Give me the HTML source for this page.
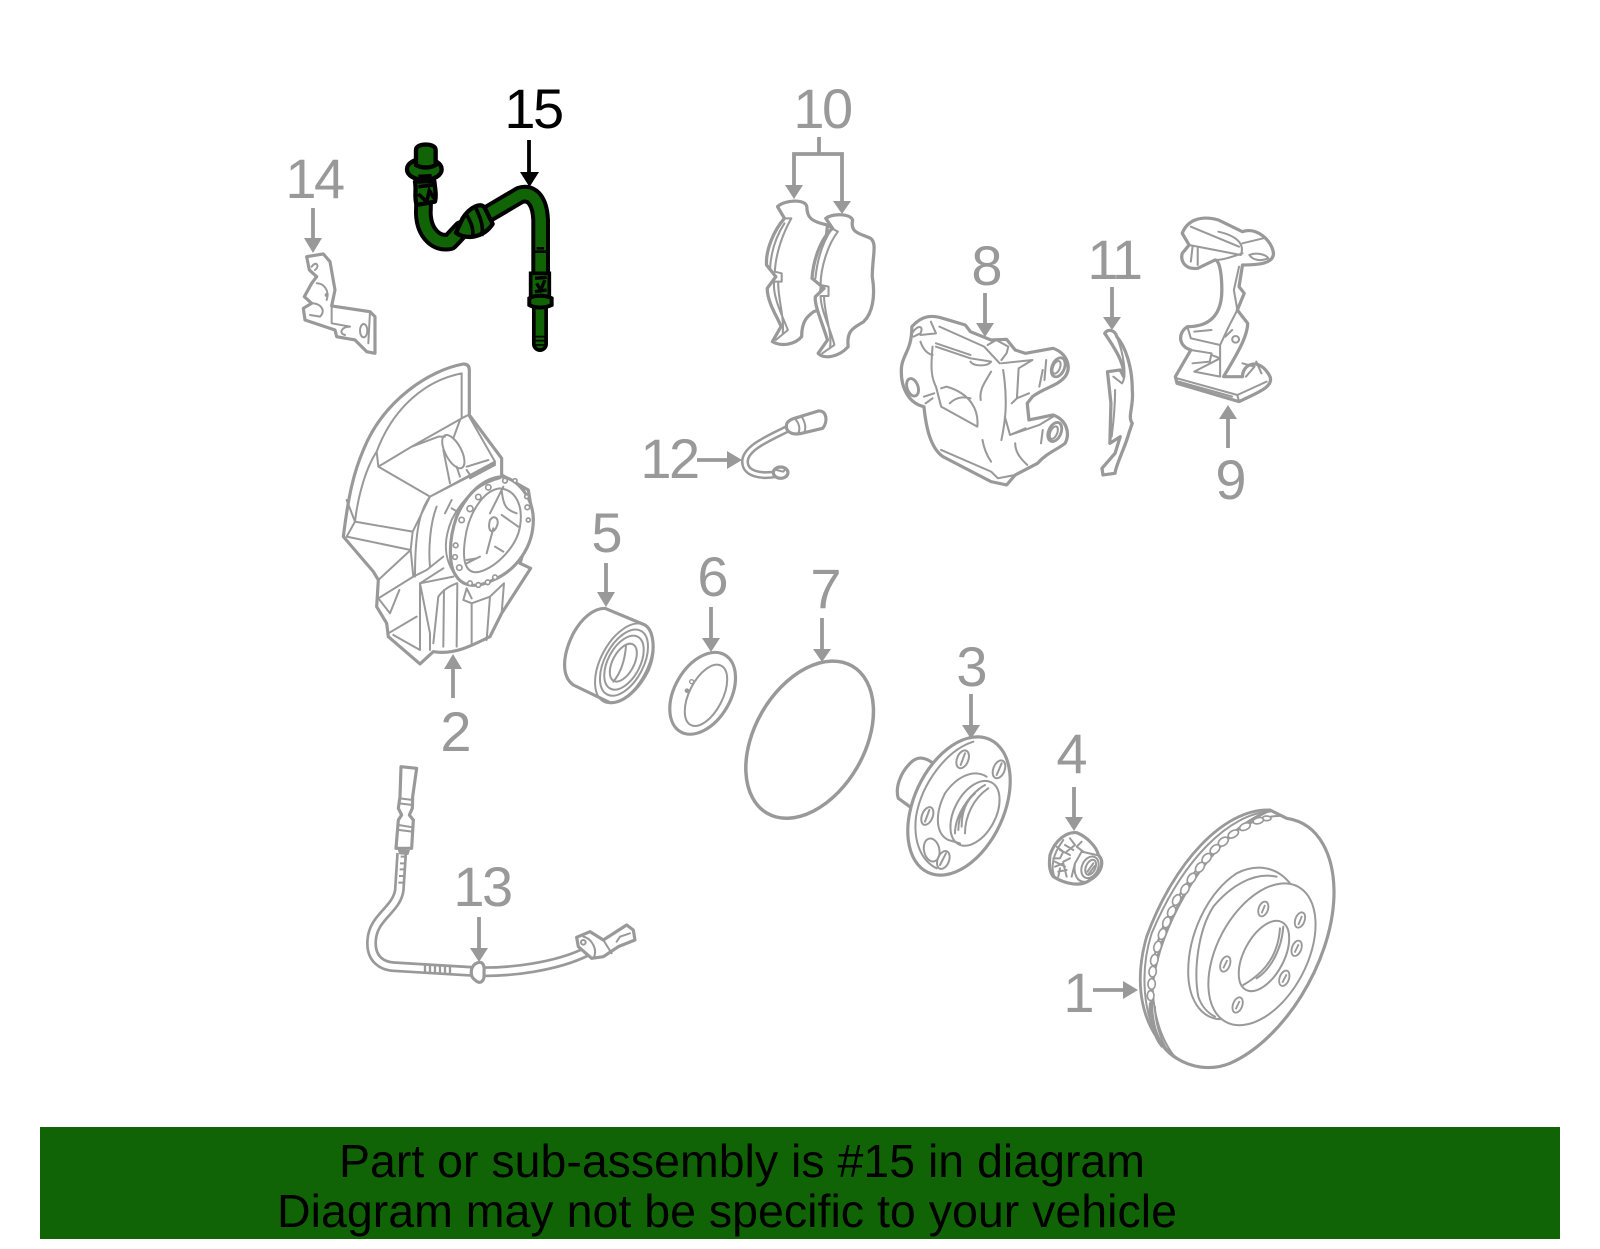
<!DOCTYPE html>
<html><head><meta charset="utf-8"><style>
html,body{margin:0;padding:0;background:#fff}
svg{display:block}
text{font-family:"Liberation Sans",sans-serif}
.l{font-size:56px;fill:#999;text-anchor:middle}
.d{letter-spacing:-2.500px}
.a{stroke:#999;stroke-width:3.800;fill:none}
.t{fill:#999;stroke:none}
.p{fill:none;stroke:#999;stroke-width:8.500;stroke-linejoin:round;stroke-linecap:round}
.w{fill:#fff;stroke:#999;stroke-width:9.500;stroke-linejoin:round;stroke-linecap:round}
.n{fill:none;stroke:#999;stroke-width:6;stroke-linejoin:round;stroke-linecap:round}
</style></head><body>
<svg width="1600" height="1249" viewBox="0 0 1600 1249" xmlns="http://www.w3.org/2000/svg">
<rect width="1600" height="1249" fill="#fff"/>

<!-- banner -->
<rect x="40" y="1127" width="1520" height="112" fill="#116405"/>
<text x="339" y="1177" font-size="46" textLength="806" lengthAdjust="spacingAndGlyphs" fill="#000">Part or sub-assembly is #15 in diagram</text>
<text x="277" y="1227" font-size="46" textLength="900" lengthAdjust="spacingAndGlyphs" fill="#000">Diagram may not be specific to your vehicle</text>

<!-- labels -->
<text class="l d" x="533" y="128" style="fill:#000">15</text>
<text class="l d" x="314" y="198">14</text>
<text class="l d" x="822" y="128">10</text>
<text class="l" x="987" y="285">8</text>
<text class="l d" x="1114" y="279">11</text>
<text class="l" x="1231" y="499">9</text>
<text class="l d" x="669" y="478">12</text>
<text class="l" x="607" y="552">5</text>
<text class="l" x="713" y="596">6</text>
<text class="l" x="826" y="608">7</text>
<text class="l" x="972" y="686">3</text>
<text class="l" x="1072" y="773">4</text>
<text class="l" x="1079" y="1012">1</text>
<text class="l" x="456" y="751">2</text>
<text class="l d" x="482" y="906">13</text>

<!-- arrows -->
<path d="M529 140V172" stroke="#000" stroke-width="3.800"/><path d="M520 172h19l-9.500 15z" fill="#000"/>
<path class="a" d="M313 208V238"/><path class="t" d="M304 238h18l-9 15z"/>
<path class="a" d="M819 137V154M794 186V154H842V202"/><path class="t" d="M785 185h18l-9 14z"/><path class="t" d="M833 201h18l-9 13z"/>
<path class="a" d="M985 293V323"/><path class="t" d="M976 323h18l-9 14z"/>
<path class="a" d="M1112 287V317"/><path class="t" d="M1103 317h18l-9 13z"/>
<path class="a" d="M1228 448V418"/><path class="t" d="M1219 419h18l-9 -14z"/>
<path class="a" d="M697 460H727"/><path class="t" d="M727 451v18l15 -9z"/>
<path class="a" d="M606 563V592"/><path class="t" d="M597 592h18l-9 15z"/>
<path class="a" d="M711 607V638"/><path class="t" d="M702 638h18l-9 14z"/>
<path class="a" d="M822 618V649"/><path class="t" d="M813 649h18l-9 13z"/>
<path class="a" d="M971 694V725"/><path class="t" d="M962 725h18l-9 14z"/>
<path class="a" d="M1074 787V817"/><path class="t" d="M1065 817h18l-9 14z"/>
<path class="a" d="M1093 990H1124"/><path class="t" d="M1123 981v18l15 -9z"/>
<path class="a" d="M453 698V668"/><path class="t" d="M444 669h18l-9 -15z"/>
<path class="a" d="M479 917V948"/><path class="t" d="M470 948h18l-9 14z"/>

<!-- 15 hose -->
<g transform="translate(270,70) scale(.3333)">
<g fill="none" stroke-linecap="round" stroke-linejoin="round">
<path d="M462 350 L460 430 C462 490 500 525 540 515 L575 478 M640 440 L750 375 C790 362 810 400 812 450 L812 690" stroke="#000" stroke-width="56"/>
<path d="M462 350 L460 430 C462 490 500 525 540 515 L575 478 M640 440 L750 375 C790 362 810 400 812 450 L812 690" stroke="#116405" stroke-width="32"/>
<path d="M810 700V822" stroke="#000" stroke-width="48"/>
<path d="M810 705V822" stroke="#116405" stroke-width="26"/>
</g>
<path d="M578 445 C600 410 635 395 645 415 L668 462 C640 505 585 510 558 488 Z" fill="#116405" stroke="#000" stroke-width="13" stroke-linejoin="round"/>
<path d="M590 435 C605 460 612 480 607 502M618 415 C632 445 642 470 635 498" fill="none" stroke="#000" stroke-width="11"/>
<path d="M435 335 L493 333 C495 355 500 375 495 395 L440 405 C432 380 440 360 435 335Z" fill="#116405" stroke="#000" stroke-width="13" stroke-linejoin="round"/>
<path d="M445 350 L490 345M445 372 L470 395 L478 362 L492 385" fill="none" stroke="#000" stroke-width="11"/>
<ellipse cx="463" cy="298" rx="52" ry="32" fill="#116405" stroke="#000" stroke-width="13"/>
<path d="M438 285 V240 C438 218 497 218 497 240 V285 C480 295 455 295 438 285Z" fill="#116405" stroke="#000" stroke-width="13"/>
<path d="M445 320 L485 318" stroke="#000" stroke-width="12"/>
<path d="M788 545H835M800 535H822" stroke="#000" stroke-width="8"/>
<path d="M782 610H838V680H782Z" fill="#116405" stroke="#000" stroke-width="11"/>
<path d="M795 625L830 622M800 640L812 660L825 630M795 665L830 660" fill="none" stroke="#000" stroke-width="10"/>
<path d="M778 685C795 675 825 675 845 685V705C825 715 795 715 778 705Z" fill="#116405" stroke="#000" stroke-width="12"/>
<path d="M790 800H832M790 812H832M790 825H832" stroke="#000" stroke-width="5"/>
</g>

<!-- 14 bracket -->
<g transform="translate(270,70) scale(.3333)">
<path class="w" d="M110 560 L160 552 L180 575 L195 660 L185 708 L300 725 L315 740 L315 850 L290 845 L255 810 L200 800 L195 780 L105 750 L100 715 L125 700 L103 680 L125 640 L140 620 L118 600Z"/>
<path class="n" d="M125 590C140 570 150 590 135 600M140 640C160 640 180 660 170 690M125 700C150 700 170 720 150 740L120 735M185 708L185 760L240 770C215 770 205 790 225 795M300 725L295 820"/>
<ellipse class="n" cx="281" cy="782" rx="11" ry="20"/>
<circle cx="170" cy="675" r="6" class="t"/>
</g>

<!-- 2 shield -->
<g transform="translate(320,350) scale(.3333)">
<path class="w" d="M430 42 Q448 42 448 60 L448 195 L545 325 L545 375 L625 420 L640 510 L600 640 L632 655 L545 790 L510 860 C450 890 400 915 340 905 L300 942 L205 860 L200 820 L170 770 L175 690 L160 665 L70 560 C85 440 100 370 130 300 C190 150 330 60 430 42Z"/>
<path class="n" d="M425 70 L425 205 M425 70 C320 90 220 170 170 305 L175 350 L275 290 L425 205 L445 195 L525 335 L330 440 L175 350 M275 290 L355 260 L375 260 M420 210 L400 265 M170 305 C140 350 115 430 105 515 L80 450 M105 515 L278 545 L330 440 M80 560 L105 515 M80 560 L272 600 L278 545 M272 600 L175 690 M175 745 L280 680 L272 600 M175 745 L210 790 L238 720 M205 850 L290 800 M220 855 L300 900 L300 700 L400 680 M330 900 L330 850 L300 700 M280 680 L320 660 L370 620 M300 700 L370 655 M330 440 L525 340 M330 440 C300 480 285 540 285 680 M350 470 C330 520 325 600 330 650 M395 450 L375 490 M395 475 L420 490 M525 345 L450 385 M440 350 L505 330 M370 300 L390 400 M410 350 L420 380 M440 360 L450 375"/>
<ellipse class="n" cx="400" cy="305" rx="24" ry="55" transform="rotate(-28 400 305)"/>
<path class="n" d="M340 880 L355 740 C370 720 385 710 410 700 M370 890 L372 720 M410 890 L412 700 M455 885 L455 760 L430 750 L440 715 L455 745 M500 870 L510 740 M545 790 L552 700 M455 760 L510 740 L552 700"/>
<path class="w" d="M545 380 C590 385 640 440 640 510 C640 590 590 660 520 690 C470 715 430 710 410 680 C385 650 385 570 410 500 C440 430 490 385 545 380Z"/>
<path class="n" d="M540 385 C500 395 440 420 395 510 C370 570 370 630 410 680"/>
<path class="n" d="M540 415 C590 420 610 470 600 530 C590 590 530 650 480 665 C440 675 425 640 435 570 C445 490 490 420 540 415Z"/>
<path class="n" d="M545 420 C550 470 560 480 590 490 M510 490 L550 410 M545 495 L595 530 M520 535 L500 610 M525 590 L550 605 M480 620 L440 640 M470 625 L440 630 M510 510 C525 490 540 510 530 530 C520 555 500 545 510 510Z"/>
<g fill="#fff" stroke="#999" stroke-width="5">
<circle cx="555" cy="392" r="7"/><circle cx="505" cy="412" r="8"/><circle cx="475" cy="441" r="8"/><circle cx="450" cy="476" r="9"/><circle cx="425" cy="510" r="8"/><circle cx="407" cy="586" r="7"/><circle cx="405" cy="621" r="7"/><circle cx="418" cy="653" r="8"/><circle cx="450" cy="700" r="7"/><circle cx="475" cy="705" r="7"/><circle cx="503" cy="697" r="7"/><circle cx="525" cy="682" r="7"/><circle cx="625" cy="510" r="6"/><circle cx="622" cy="472" r="7"/><circle cx="620" cy="440" r="6"/><circle cx="585" cy="392" r="6"/>
</g>
</g>

<!-- 10 pads, 8 caliper, 11 clip, 9 bracket -->
<g transform="translate(750,190) scale(.3444,.3333)">
<path class="w" d="M80 50 C100 30 160 25 165 50 C165 85 180 95 225 105 L200 360 L185 365 C165 380 150 395 150 440 C130 465 90 470 65 455 L90 410 C85 390 50 340 50 295 L75 260 L48 225 C45 180 70 120 100 85Z"/>
<path class="n" d="M100 85 L120 85 C95 130 75 190 72 245 L92 250 L92 275 L70 275 C65 320 95 380 110 420 L75 450 M100 100 C75 140 60 190 58 240 M82 275 C80 320 100 380 95 430"/>
<path class="w" d="M220 85 C240 70 290 70 298 90 C290 130 320 130 350 145 C370 160 355 200 355 260 C365 320 355 370 330 395 C300 415 280 420 285 470 C260 500 215 510 198 490 L225 450 C210 400 185 340 190 320 L215 295 L180 265 C185 200 210 140 240 115Z"/>
<path class="n" d="M220 105 L255 125 C225 165 205 235 205 285 L228 290 L228 318 L205 318 C205 360 235 420 245 465 L210 490 M235 120 C210 160 195 210 190 265 M215 318 C215 370 240 430 232 475"/>
<path class="w" d="M470 410 C500 375 530 375 560 385 L625 405 L640 425 L700 450 L745 448 L770 480 L800 490 L880 475 C920 490 935 530 915 560 C890 590 860 590 820 620 L805 640 L810 690 L880 675 C920 690 930 730 915 760 C890 780 860 790 835 820 L770 855 L745 885 L700 875 L560 800 C520 770 510 700 505 650 C460 640 435 590 440 530 C445 490 470 480 470 410Z"/>
<path class="n" d="M470 430 C490 400 505 410 495 430 L475 440 M495 435 L540 430 L525 395 M550 410 L680 470 L725 520 M540 460 L640 495 M540 470 L640 505 L700 515 C690 530 650 530 640 515 M690 465 L715 450 L750 470 L745 490 L730 510 M730 520 L820 510 L780 535 L775 625 M530 470 C525 530 525 560 540 590 L555 650 L660 710 C665 660 640 610 570 590 L555 595 M580 640 C600 620 620 620 640 625 M505 620 L535 610 M510 640 L530 625 M700 545 C680 580 665 600 670 630 M735 540 C750 640 740 700 730 750 M740 680 L755 735 L840 705 L880 680 M760 640 L775 625 L810 610 M755 735 L800 715 M850 540 L840 590 M860 510 L855 570 M850 720 L845 760 M555 780 L700 845 L720 865 L745 860 L770 855 M675 750 C680 780 690 800 700 815 M770 760 C770 790 790 810 805 825 M530 495 C510 490 500 470 495 455"/>
<ellipse class="p" cx="895" cy="532" rx="18" ry="30" transform="rotate(22 895 532)"/>
<ellipse class="n" cx="890" cy="532" rx="10" ry="20" transform="rotate(22 890 532)"/>
<ellipse class="p" cx="885" cy="726" rx="18" ry="30" transform="rotate(22 885 726)"/>
<ellipse class="n" cx="882" cy="728" rx="10" ry="20" transform="rotate(22 882 728)"/>
<ellipse class="p" cx="472" cy="592" rx="16" ry="27" transform="rotate(-18 472 592)"/>
<path class="w" d="M1030 430 C1040 415 1060 420 1065 440 C1090 470 1110 530 1110 600 C1115 650 1095 680 1110 700 L1100 730 C1090 770 1060 830 1060 850 L1025 855 L1022 835 L1060 790 L1075 740 L1045 760 L1048 640 L1038 545 L1075 540 L1085 560 C1090 520 1050 460 1030 430Z"/>
<path class="n" d="M1065 440 C1085 490 1095 560 1080 580 L1055 560 M1060 600 C1060 650 1055 700 1050 740"/>
<path class="w" d="M1255 130 C1270 90 1310 75 1360 90 L1430 125 C1470 110 1515 150 1520 190 C1520 220 1480 225 1430 225 L1420 290 L1435 310 L1415 360 L1445 400 C1445 440 1410 500 1375 560 L1430 560 C1430 520 1480 500 1510 560 C1520 590 1480 605 1420 635 L1240 580 L1235 560 L1280 480 C1245 470 1240 430 1270 410 C1330 410 1370 380 1370 300 C1370 260 1365 210 1350 210 L1300 235 C1260 240 1250 210 1255 190 L1275 165Z"/>
<path class="n" d="M1275 165 L1425 195 C1435 170 1425 140 1360 125 M1280 110 L1420 170 M1430 160 L1490 145 M1450 195 C1470 185 1500 195 1505 205 C1480 215 1460 210 1450 195 M1285 170 L1280 215 M1300 175 L1300 225 M1350 210 C1375 210 1400 200 1430 190 M1420 230 L1405 300 L1415 360 L1390 410 L1365 465 L1365 560 M1270 410 L1280 445 L1365 465 M1290 425 L1340 420 M1280 480 L1340 490 L1335 515 L1285 520 M1340 495 L1365 505 L1290 545 L1365 560 M1240 565 L1415 615 L1420 635 M1245 575 L1400 620 M1415 615 L1500 575 M1430 520 L1465 530 L1440 560 M1470 515 L1485 550 M1380 440 L1400 420"/>
<circle class="n" cx="1410" cy="448" r="10"/>
</g>

<!-- 12 -->
<g transform="translate(630,400) scale(.3333)">
<path d="M485 80 C430 110 345 140 345 185 C345 225 400 230 440 222" fill="none" stroke="#999" stroke-width="24" stroke-linecap="round"/>
<path d="M485 80 C430 110 345 140 345 185 C345 225 400 230 440 222" fill="none" stroke="#fff" stroke-width="9" stroke-linecap="round"/>
<path class="w" d="M510 50 L565 33 C590 30 595 65 578 85 L515 100 C480 108 465 90 470 72 C475 60 490 55 510 50Z"/>
<path class="n" d="M498 60 C510 75 510 90 505 100M515 50 C525 65 530 85 522 98"/>
<ellipse class="w" cx="452" cy="218" rx="22" ry="17"/>
<path class="n" d="M440 210 L460 215 L468 205"/>
</g>

<!-- 5,6,7 -->
<g transform="translate(550,590) scale(.3333)">
<path class="w" d="M165 55 L285 105 C310 120 320 180 295 240 C265 300 220 340 180 338 L70 285 C35 260 35 200 70 130 C95 85 130 55 165 55Z"/>
<ellipse class="n" cx="222" cy="220" rx="70" ry="130" transform="rotate(28 222 220)"/>
<ellipse class="n" cx="222" cy="218" rx="58" ry="108" transform="rotate(28 222 218)"/>
<ellipse class="n" cx="222" cy="218" rx="48" ry="88" transform="rotate(28 222 218)"/>
<ellipse class="n" cx="220" cy="218" rx="32" ry="62" transform="rotate(28 220 218)"/>
<path class="n" d="M228 168 C225 205 215 245 190 275"/>
<ellipse class="p" cx="458" cy="310" rx="84" ry="133" transform="rotate(30 458 310)" style="stroke-width:9.500"/>
<ellipse class="n" cx="468" cy="316" rx="50" ry="100" transform="rotate(27 468 316)"/>
<circle cx="425" cy="275" r="6" fill="#fff" stroke="#999" stroke-width="4"/>
<circle cx="411" cy="302" r="7" class="t"/>
<ellipse class="p" cx="779" cy="449" rx="165" ry="255" transform="rotate(30 779 449)" style="stroke-width:10.500"/>
</g>

<!-- 3, 4, 1 -->
<g transform="translate(890,730) scale(.3333)">
<path class="w" d="M130 100 C100 78 80 80 60 100 C30 130 15 175 25 205 L62 232Z"/>
<ellipse class="w" cx="207" cy="228" rx="135" ry="220" transform="rotate(25 207 228)"/>
<path class="n" d="M250 35 C170 60 95 160 78 260 C70 330 90 390 140 415"/>
<path class="n" d="M290 140 C250 115 200 140 165 190 C135 250 135 310 175 330 L210 340"/>
<ellipse class="n" cx="255" cy="250" rx="62" ry="105" transform="rotate(28 255 250)"/>
<path class="n" d="M285 165 C240 190 195 255 195 310M270 175 C230 205 205 255 205 300M255 190 C225 215 215 250 215 290M295 175 C250 205 225 260 225 310"/>
<ellipse class="n" cx="218" cy="88" rx="17" ry="28" transform="rotate(22 218 88)"/>
<path class="n" d="M212 105 L225 70"/>
<ellipse class="n" cx="327" cy="118" rx="17" ry="28" transform="rotate(22 327 118)"/>
<path class="n" d="M320 135 L335 100"/>
<ellipse class="n" cx="112" cy="258" rx="16" ry="28" transform="rotate(22 112 258)"/>
<path class="n" d="M105 275 L118 240"/>
<ellipse class="n" cx="160" cy="390" rx="17" ry="28" transform="rotate(22 160 390)"/>
<path class="n" d="M150 405 L168 370"/>
<ellipse class="n" cx="125" cy="360" rx="23" ry="35" transform="rotate(-12 125 360)"/>
<!-- nut -->
<path class="w" d="M480 375 C495 330 530 305 560 308 C590 320 620 350 625 375 C645 395 635 430 600 450 C575 470 530 465 490 440 C475 420 478 395 480 375Z"/>
<path class="n" d="M500 350 L520 365 L510 385 L490 385 M540 325 L555 345 L530 365 M575 335 L560 350 L580 365 M495 410 L520 400 L530 440 M505 440 L510 415 M540 385 L520 395 M545 440 L555 400 L575 365 L620 375 M520 330 C490 370 480 410 495 445 M555 400 C550 430 560 460 590 455 M510 360 L540 375 M525 345 L550 360 M495 395 L525 410 M505 425 L530 420"/>
<ellipse class="n" cx="600" cy="412" rx="24" ry="34" transform="rotate(25 600 412)"/>
<ellipse class="n" cx="602" cy="412" rx="14" ry="24" transform="rotate(25 602 412)"/>
<path class="n" d="M592 425 L610 400M596 432 L614 408"/>
<!-- rotor -->
<path class="p" d="M1140 240 C1000 235 850 400 770 620 C730 760 750 900 860 985"/>
<path class="w" d="M1140 240 L1190 265 C1290 280 1335 380 1332 500 C1325 700 1180 930 1020 1000 C960 1025 900 1010 860 985 C800 950 780 880 785 780 C800 620 900 430 1020 320 C1060 280 1100 260 1140 240Z" style="fill:none"/>
<path class="n" d="M1180 258 C1050 250 900 400 815 600 C770 720 780 880 850 975"/>
<path class="n" d="M1140 245 C1020 250 880 385 785 610 C750 720 755 860 820 950"/>
<path class="n" d="M780 820 C775 860 790 920 815 950M795 830 C795 870 810 930 835 965"/>
<g fill="#fff" stroke="#999" stroke-width="5">
<ellipse cx="1130" cy="265" rx="13" ry="7"/><ellipse cx="1105" cy="272" rx="16" ry="9" transform="rotate(-15 1105 272)"/><ellipse cx="1065" cy="290" rx="17" ry="10" transform="rotate(-25 1065 290)"/><ellipse cx="1030" cy="312" rx="17" ry="10" transform="rotate(-30 1030 312)"/><ellipse cx="1000" cy="335" rx="17" ry="11" transform="rotate(-38 1000 335)"/><ellipse cx="975" cy="358" rx="17" ry="11" transform="rotate(-42 975 358)"/><ellipse cx="950" cy="385" rx="17" ry="11" transform="rotate(-48 950 385)"/><ellipse cx="930" cy="412" rx="17" ry="11" transform="rotate(-52 930 412)"/><ellipse cx="905" cy="445" rx="17" ry="11" transform="rotate(-56 905 445)"/><ellipse cx="885" cy="478" rx="17" ry="11" transform="rotate(-60 885 478)"/><ellipse cx="860" cy="510" rx="17" ry="11" transform="rotate(-62 860 510)"/><ellipse cx="845" cy="545" rx="17" ry="11" transform="rotate(-64 845 545)"/><ellipse cx="830" cy="577" rx="17" ry="11" transform="rotate(-68 830 577)"/><ellipse cx="817" cy="612" rx="17" ry="11" transform="rotate(-70 817 612)"/><ellipse cx="803" cy="650" rx="17" ry="11" transform="rotate(-74 803 650)"/><ellipse cx="793" cy="690" rx="17" ry="11" transform="rotate(-78 793 690)"/><ellipse cx="788" cy="725" rx="16" ry="11" transform="rotate(-85 788 725)"/><ellipse cx="785" cy="762" rx="16" ry="11" transform="rotate(-88 785 762)"/><ellipse cx="782" cy="797" rx="15" ry="10" transform="rotate(-92 782 797)"/>
</g>
<path class="n" d="M1200 460 C1160 410 1100 400 1040 430 C950 490 890 620 895 740 C900 820 940 865 990 868"/>
<path class="n" d="M1160 440 C1090 425 1020 470 970 530 C925 600 910 720 925 800 C935 830 955 850 975 860"/>
<ellipse class="n" cx="1116" cy="673" rx="135" ry="230" transform="rotate(28 1116 673)"/>
<ellipse class="n" cx="1122" cy="678" rx="60" ry="115" transform="rotate(28 1122 678)"/>
<path class="n" d="M1170 595 C1165 670 1130 725 1060 765M1180 590 C1175 660 1140 720 1100 745"/>
<g fill="none" stroke="#999" stroke-width="5.500">
<ellipse cx="1120" cy="537" rx="14" ry="23" transform="rotate(20 1120 537)"/><ellipse cx="1230" cy="570" rx="14" ry="24" transform="rotate(20 1230 570)"/><ellipse cx="1220" cy="655" rx="14" ry="24" transform="rotate(20 1220 655)"/><ellipse cx="1183" cy="745" rx="14" ry="24" transform="rotate(20 1183 745)"/><ellipse cx="1043" cy="825" rx="14" ry="24" transform="rotate(20 1043 825)"/><ellipse cx="1006" cy="702" rx="14" ry="24" transform="rotate(20 1006 702)"/>
<path d="M1115 550L1125 525M1225 585L1236 558M1214 668L1226 643M1177 758L1190 733M1037 838L1049 813M1000 715L1012 690"/>
</g>
</g>

<!-- 13 -->
<g transform="translate(350,750) scale(.3333)">
<path d="M155 310 L148 420 C140 480 70 500 65 570 C60 630 100 648 130 650 L380 665 C480 668 620 650 710 605" fill="none" stroke="#999" stroke-width="33" stroke-linejoin="round"/>
<path d="M155 310 L148 420 C140 480 70 500 65 570 C60 630 100 648 130 650 L380 665 C480 668 620 650 710 605" fill="none" stroke="#fff" stroke-width="17" stroke-linejoin="round"/>
<path d="M152 320h16M150 340h18M149 358h18M147 378h18M145 398h18" stroke="#999" stroke-width="6"/>
<path d="M225 645V668M240 646V669M255 647V670M270 648V671M285 648V672M300 649V672" stroke="#999" stroke-width="7"/>
<path class="w" d="M153 50 L200 55 L188 140 L187 175 L178 195 L190 210 L185 295 L138 295 L145 210 L155 195 L145 175 L150 140Z"/>
<path class="n" d="M150 145 L188 150M148 160 L188 165M146 225 L188 232M148 240L186 245"/>
<path d="M143 298 L180 300 L175 315 L148 313Z" fill="#999"/>
<path class="w" d="M375 642 C395 630 405 640 402 668 C405 695 390 705 375 690 C360 680 360 655 375 642Z"/>
<path class="w" d="M680 562 L720 545 L760 570 L830 525 L850 540 L855 570 L805 590 L760 620 L725 625 L685 590Z"/>
<path class="n" d="M700 560 C725 565 745 600 730 625M800 575 L810 560 L840 550M760 570 L785 610"/>
<circle class="n" cx="700" cy="577" r="7"/>
</g>
</svg>
</body></html>
